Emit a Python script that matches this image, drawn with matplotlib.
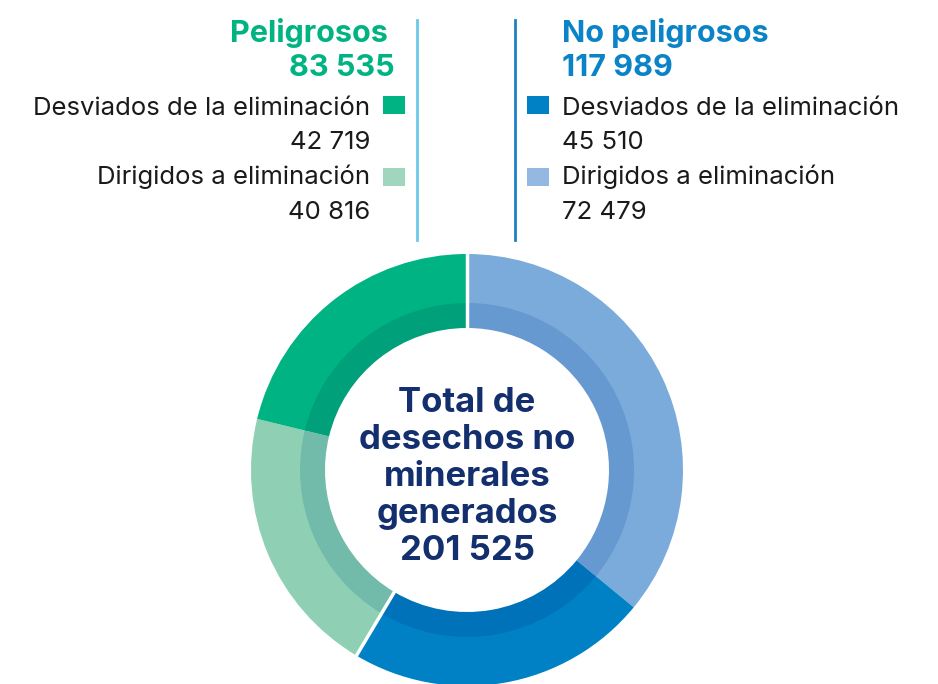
import numpy as np
import matplotlib
matplotlib.use("Agg")
import matplotlib.pyplot as plt

plt.rcParams['font.family'] = ['Inter', 'DejaVu Sans']

# datos (toneladas)
grupos = ["Peligrosos", "No peligrosos"]
totales_grupo = ["83 535", "117 989"]
categorias = ["Desviados de la eliminación", "Dirigidos a eliminación"]
peligrosos = [42719, 40816]
no_peligrosos = [45510, 72479]
etiquetas_pel = ["42 719", "40 816"]
etiquetas_nopel = ["45 510", "72 479"]
total_txt = "201 525"

# orden del anillo en sentido horario desde arriba
valores_anillo = [no_peligrosos[1], no_peligrosos[0], peligrosos[1], peligrosos[0]]
col_ext = ["#7aabdb", "#0081c6", "#8fd0b4", "#00b383"]
col_int = ["#6699d0", "#0072b9", "#72bbaa", "#00a07a"]

W, H = 938, 684
fig = plt.figure(figsize=(W / 100, H / 100), dpi=100)
ax = fig.add_axes([0, 0, 1, 1])

def py(y):
    return H - y

cx, cy = 467, py(470)
ax.pie(valores_anillo, colors=col_ext, radius=216, center=(cx, cy),
       startangle=90, counterclock=False, frame=True,
       wedgeprops=dict(width=50, linewidth=0))
ax.pie(valores_anillo, colors=col_int, radius=167, center=(cx, cy),
       startangle=90, counterclock=False, frame=True,
       wedgeprops=dict(width=25, linewidth=0))

# separacion blanca entre grupos
total = sum(valores_anillo)
for frac in [0, sum(no_peligrosos) / total]:
    ang = np.deg2rad(90 - 360 * frac)
    r = np.array([138, 220])
    ax.plot(cx + r * np.cos(ang), cy + r * np.sin(ang), color='white', lw=2.5,
            solid_capstyle='butt')

ax.set_xlim(0, W)
ax.set_ylim(0, H)
ax.set_aspect('equal')
ax.axis('off')

verde = "#00b383"
azul = "#0a84c6"
navy = "#142f6e"
negro = "#1a1a1a"

# lineas verticales
ax.plot([417, 417], [py(20), py(240)], color="#6cc8e6", lw=2)
ax.plot([515, 515], [py(20), py(240)], color="#1f7fc4", lw=2)

fs_tit = 22
fs_txt = 18.5

# lado izquierdo
ax.text(388, py(42), grupos[0], color=verde, fontsize=fs_tit, fontweight='bold', ha='right', va='baseline')
ax.text(395, py(76), totales_grupo[0], color=verde, fontsize=fs_tit, fontweight='bold', ha='right', va='baseline')
ax.text(370, py(115), categorias[0], color=negro, fontsize=fs_txt, ha='right', va='baseline')
ax.text(370, py(149), etiquetas_pel[0], color=negro, fontsize=fs_txt, ha='right', va='baseline')
ax.text(370, py(184), categorias[1], color=negro, fontsize=fs_txt, ha='right', va='baseline')
ax.text(370, py(219), etiquetas_pel[1], color=negro, fontsize=fs_txt, ha='right', va='baseline')
ax.add_patch(plt.Rectangle((383, py(114)), 22, 18, color=col_ext[3], lw=0))
ax.add_patch(plt.Rectangle((383, py(186)), 22, 18, color="#a0d5be", lw=0))

# lado derecho
ax.text(562, py(42), grupos[1], color=azul, fontsize=fs_tit, fontweight='bold', ha='left', va='baseline')
ax.text(562, py(76), totales_grupo[1], color=azul, fontsize=fs_tit, fontweight='bold', ha='left', va='baseline')
ax.text(562, py(115), categorias[0], color=negro, fontsize=fs_txt, ha='left', va='baseline')
ax.text(562, py(149), etiquetas_nopel[0], color=negro, fontsize=fs_txt, ha='left', va='baseline')
ax.text(562, py(184), categorias[1], color=negro, fontsize=fs_txt, ha='left', va='baseline')
ax.text(562, py(219), etiquetas_nopel[1], color=negro, fontsize=fs_txt, ha='left', va='baseline')
ax.add_patch(plt.Rectangle((527, py(114)), 22, 18, color=col_ext[1], lw=0))
ax.add_patch(plt.Rectangle((527, py(186)), 22, 18, color="#95b8e2", lw=0))

# texto central
lineas = ["Total de", "desechos no", "minerales", "generados", total_txt]
for i, t in enumerate(lineas):
    ax.text(cx, py(412 + 37 * i), t, color=navy, fontsize=25, fontweight='bold',
            ha='center', va='baseline')

fig.savefig("out.png", dpi=100)
